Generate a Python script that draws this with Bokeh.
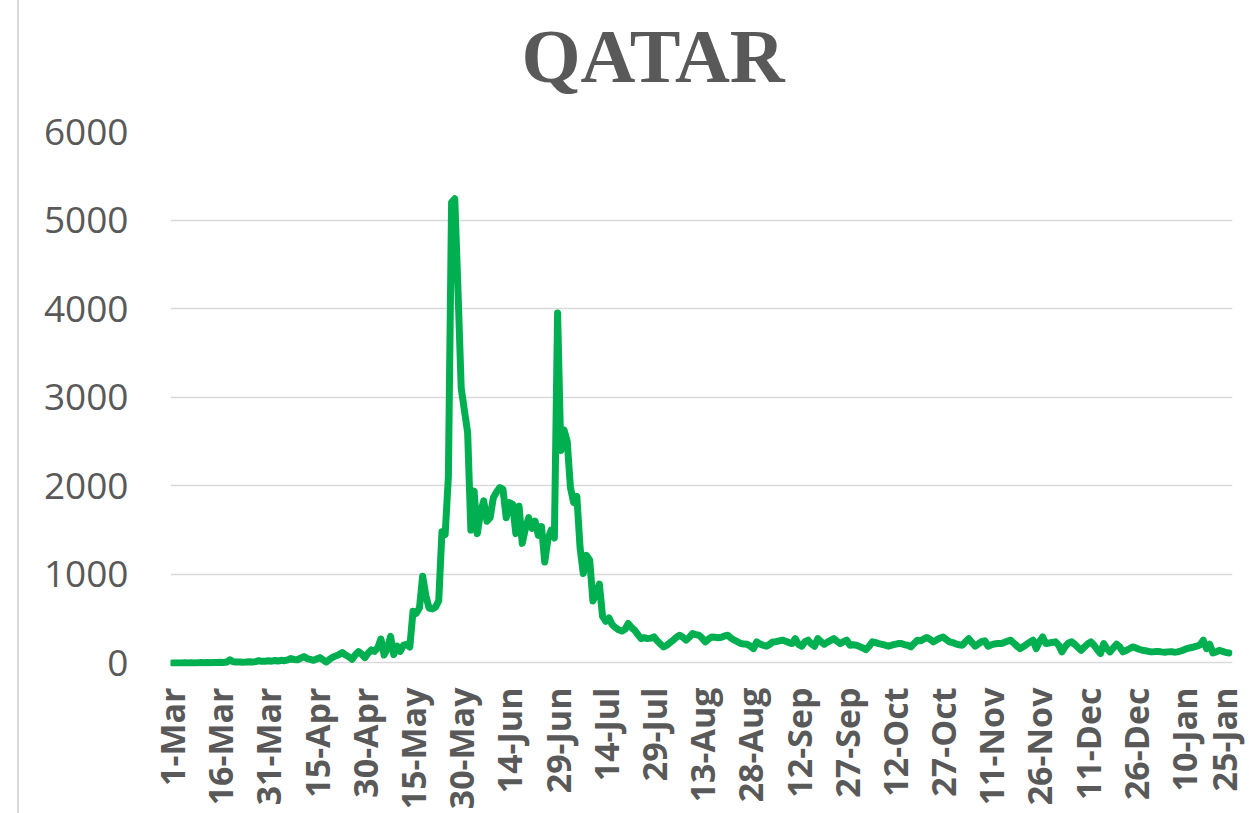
from bokeh.plotting import figure
from bokeh.models import FixedTicker, Range1d, ColumnDataSource
from bokeh.embed import file_html
from bokeh.resources import INLINE

title_text = "QATAR"
start_date = "2020-03-01"
tick_labels = ["1-Mar", "16-Mar", "31-Mar", "15-Apr", "30-Apr", "15-May", "30-May",
               "14-Jun", "29-Jun", "14-Jul", "29-Jul", "13-Aug", "28-Aug", "12-Sep",
               "27-Sep", "12-Oct", "27-Oct", "11-Nov", "26-Nov", "11-Dec", "26-Dec",
               "10-Jan", "25-Jan"]
tick_days = [15 * i for i in range(len(tick_labels))]
y_ticks = [0, 1000, 2000, 3000, 4000, 5000, 6000]

# daily values (1-Mar-2020 .. 24-Jan-2021)
values = [
    0, 0, 0, 0, 1, 0, 3, 0, 1, 4,
    2, 6, 3, 5, 4, 8, 6, 10, 35, 14,
    10, 12, 9, 11, 14, 12, 15, 25, 18, 20,
    24, 20, 28, 22, 30, 26, 35, 49, 40, 35,
    55, 72, 50, 40, 30, 45, 60, 35, 11, 40,
    65, 80, 95, 117, 90, 70, 41, 90, 128, 100,
    60, 110, 147, 130, 170, 270, 90, 160, 300, 95,
    190, 130, 200, 210, 180, 585, 560, 620, 980, 760,
    620, 610, 630, 700, 1480, 1450, 2100, 5200, 5240, 4200,
    3100, 2850, 2600, 1500, 1940, 1460, 1700, 1830, 1600, 1640,
    1865, 1930, 1980, 1960, 1640, 1810, 1790, 1460, 1770, 1350,
    1520, 1640, 1520, 1600, 1440, 1540, 1140, 1400, 1500, 1410,
    3950, 2400, 2630, 2500, 1980, 1810, 1880, 1300, 1010, 1215,
    1160, 700, 790, 890, 527, 470, 508, 432, 400, 374,
    360, 380, 445, 400, 370, 320, 275, 285, 275, 280,
    294, 250, 215, 181, 200, 230, 257, 290, 313, 290,
    257, 290, 332, 320, 313, 280, 238, 270, 294, 290,
    285, 290, 305, 313, 280, 257, 240, 219, 215, 211,
    190, 162, 238, 215, 200, 189, 210, 238, 240, 250,
    257, 245, 230, 219, 275, 210, 189, 240, 257, 215,
    189, 275, 240, 211, 235, 255, 275, 245, 219, 240,
    257, 200, 205, 200, 185, 170, 151, 190, 238, 230,
    219, 210, 200, 189, 200, 210, 219, 219, 205, 200,
    181, 220, 257, 250, 270, 287, 265, 238, 260, 280,
    294, 265, 238, 230, 215, 205, 200, 240, 275, 230,
    189, 215, 240, 249, 189, 205, 215, 220, 219, 230,
    245, 257, 225, 190, 162, 185, 210, 235, 257, 162,
    240, 294, 219, 225, 232, 238, 200, 125, 185, 225,
    238, 210, 175, 143, 180, 215, 238, 200, 150, 106,
    219, 160, 125, 170, 211, 180, 125, 140, 160, 181,
    170, 155, 143, 138, 130, 125, 128, 130, 125, 122,
    125, 128, 122, 125, 135, 148, 162, 172, 180, 189,
    205, 257, 162, 211, 113, 125, 143, 130, 120, 113,
]
days = list(range(len(values)))

GRAY = "#595959"
GREEN = "#00B050"

p = figure(width=1229, height=813, output_backend="svg", toolbar_location=None,
           x_range=Range1d(-0.5, 330.1), y_range=Range1d(-40, 6000),
           min_border_left=151, min_border_right=16, min_border_top=131,
           min_border_bottom=147)
p.outline_line_color = None
p.background_fill_color = "white"
p.border_fill_color = "white"
# light chart-area border on the left
p.styles = {"margin-left": "17px", "border-left": "2px solid #D9D9D9"}

src = ColumnDataSource(dict(day=days, value=values))
p.line("day", "value", source=src, line_color=GREEN, line_width=7,
       line_join="round", line_cap="round")

# title: a trailing empty line (with reduced line height) lifts the text
# towards the top of the page without enlarging the top border
p.title.text = title_text + "\n"
p.title.align = "left"
p.title.offset = 351
p.title.vertical_align = "top"
p.title.standoff = 25
p.title.text_line_height = 0.225
p.title.text_font = "Liberation Serif"
p.title.text_font_style = "bold"
p.title.text_font_size = "76px"
p.title.text_color = GRAY

p.xgrid.visible = False
p.ygrid.grid_line_color = "#D9D9D9"
p.ygrid.grid_line_width = 1.3
p.ygrid.ticker = FixedTicker(ticks=y_ticks)

xa = p.xaxis[0]
xa.ticker = FixedTicker(ticks=tick_days)
xa.major_label_overrides = {d: lab for d, lab in zip(tick_days, tick_labels)}
xa.major_label_orientation = 3.14159265 / 2
xa.major_label_text_font = "Open Sans"
xa.major_label_text_font_style = "bold"
xa.major_label_text_font_size = "34px"
xa.major_label_text_color = GRAY
xa.major_label_standoff = 21
xa.major_tick_out = 0
xa.major_tick_in = 0
xa.minor_tick_out = 0
xa.minor_tick_in = 0
xa.axis_line_color = None
xa.major_tick_line_color = None
xa.minor_tick_line_color = None

ya = p.yaxis[0]
ya.ticker = FixedTicker(ticks=y_ticks)
ya.major_label_text_font = "Open Sans"
ya.major_label_text_font_size = "37px"
ya.major_label_text_color = GRAY
ya.major_label_standoff = 42
ya.major_tick_out = 0
ya.major_tick_in = 0
ya.minor_tick_out = 0
ya.minor_tick_in = 0
ya.axis_line_color = None
ya.major_tick_line_color = None
ya.minor_tick_line_color = None

open("out.html", "w").write(file_html(p, INLINE))
